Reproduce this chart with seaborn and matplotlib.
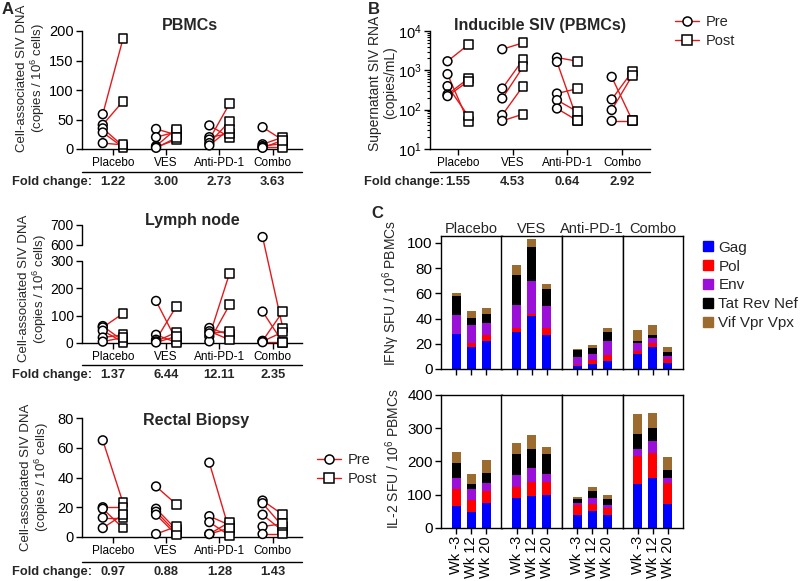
import numpy as np
import pandas as pd
import matplotlib
matplotlib.use("Agg")
import matplotlib.pyplot as plt
from matplotlib.lines import Line2D
from matplotlib.ticker import LogLocator, NullFormatter
import seaborn as sns

# ---- dados ----
groups = ["Placebo", "VES", "Anti-PD-1", "Combo"]

pbmc_pre = [[59, 41, 35, 28, 10], [34, 20, 5, 3, 2], [40, 20, 16, 10, 6], [37, 8, 5, 3, 2]]
pbmc_post = [[187, 81, 5, 3, 7], [24, 29, 34, 16, 19], [20, 26, 77, 47, 34], [15, 20, 9, 3, 15]]
pbmc_fold = ["1.22", "3.00", "2.73", "3.63"]

ln_pre = [[62, 57, 45, 20, 5], [154, 30, 12, 6, 2], [55, 43, 24, 6, 35], [640, 115, 8, 6, 3]]
ln_post = [[8, 108, 3, 30, 20], [10, 2, 134, 39, 24], [30, 12, 255, 140, 43], [55, 2, 115, 40, 3]]
ln_fold = ["1.37", "6.44", "12.11", "2.35"]

rb_pre = [[65, 20, 19, 13, 6], [34, 19, 17, 15, 2], [50, 14, 10, 2, 2], [24.5, 22.7, 15, 7, 2]]
rb_post = [[23, 20, 6, 13, 15], [22, 5, 3, 1.5, 7], [4, 8, 1, 10, 6], [15, 7, 4, 9, 2]]
rb_fold = ["0.97", "0.88", "1.28", "1.43"]

ind_pre = [[1700, 800, 397, 243, 221], [3440, 345, 193, 73, 52], [2110, 1640, 257, 175, 107], [683, 182, 98, 52]]
ind_post = [[4500, 49, 69, 620, 530], [5000, 1870, 1230, 397, 77], [1700, 52, 345, 88, 52], [52, 955, 753, 52]]
ind_fold = ["1.55", "4.53", "0.64", "2.92"]

weeks = ["Wk -3", "Wk 12", "Wk 20"]
antigens = ["Gag", "Pol", "Env", "Tat Rev Nef", "Vif Vpr Vpx"]
cores = ["#0000ff", "#ff0000", "#9b10d8", "#000000", "#9c6b30"]

# valores por grupo (Placebo, VES, Anti-PD-1, Combo) x semana (Wk -3, 12, 20)
ifn_gag = [27.5, 17.5, 22, 29.4, 42, 26.7, 2.4, 4.2, 6.3, 11.6, 17.2, 4.5]
ifn_pol = [0.5, 3.4, 5.2, 3.1, 1.4, 5.8, 1.0, 2.7, 4.5, 2.7, 3.7, 3.2]
ifn_env = [14.6, 13.7, 9.6, 18, 26.4, 17.5, 6.1, 5.3, 11.4, 6.1, 3.4, 2.9]
ifn_tat = [15, 5.8, 7.2, 23.8, 27, 13.8, 5.8, 4.5, 7.2, 1.6, 2.7, 3.2]
ifn_vif = [2.6, 5.3, 4.4, 8, 6.1, 3.9, 0.8, 2.1, 3.4, 9, 7.7, 3.9]

il2_gag = [65, 47, 73, 91, 97, 100, 38, 49, 37, 131, 150, 70]
il2_pol = [52, 36, 38, 31, 42, 39, 30, 23, 21, 84, 75, 65]
il2_env = [34, 33, 25, 37, 42, 23, 7, 18, 10, 23, 35, 15]
il2_tat = [45, 16, 28, 64, 57, 61, 13, 22, 19, 44, 40, 25]
il2_vif = [32, 31, 39, 32, 41, 19, 6, 11, 11, 61, 45, 38]

# ---- estilo ----
sns.set_theme(style="ticks")
plt.rcParams["font.family"] = ["Liberation Sans", "DejaVu Sans"]
plt.rcParams["mathtext.default"] = "regular"
plt.rcParams["axes.linewidth"] = 1.0
plt.rcParams["axes.edgecolor"] = "black"
plt.rcParams["xtick.color"] = "black"
plt.rcParams["ytick.color"] = "black"
VERMELHO = "#e31a1c"
FOLD_FS = 9.3

fig = plt.figure(figsize=(8, 5.81), dpi=100)


def px_axes(x0, y0, x1, y1):
    return fig.add_axes([x0 / 800, 1 - y1 / 581, (x1 - x0) / 800, (y1 - y0) / 581])


def paired_frame(pre, post):
    rows = []
    for g, (a, b) in enumerate(zip(pre, post)):
        for i, (v0, v1) in enumerate(zip(a, b)):
            rows.append((g, f"{g}-{i}", "Pre", v0))
            rows.append((g, f"{g}-{i}", "Post", v1))
    df = pd.DataFrame(rows, columns=["grp", "animal", "time", "value"])
    df["x"] = df["grp"] + df["time"].map({"Pre": -0.19, "Post": 0.19})
    return df


def paired(ax, pre, post):
    df = paired_frame(pre, post)
    sns.lineplot(data=df, x="x", y="value", units="animal", estimator=None,
                 color=VERMELHO, lw=1, ax=ax, legend=False, zorder=2)
    sns.scatterplot(data=df, x="x", y="value", style="time",
                    markers={"Pre": "o", "Post": "s"}, color="white",
                    edgecolor="black", linewidth=1.1, s=40, ax=ax,
                    legend=False, zorder=3, clip_on=False)
    ax.set_xlabel("")
    ax.set_ylabel("")


def eixo_pareado(ax, fold, line_y, fold_y, fold_px, xlim=(-0.58, 3.55)):
    ax.set_xlim(*xlim)
    ax.set_xticks(range(4))
    ax.set_xticklabels(groups, fontsize=8.5)
    ax.spines[["top", "right"]].set_visible(False)
    ax.tick_params(axis="both", direction="out", length=4, width=1, pad=2)
    ax.tick_params(axis="y", labelsize=10.5)
    ax.plot([0, 1], [line_y, line_y], transform=ax.transAxes, color="black",
            lw=1, clip_on=False)
    y_fig = ax.transAxes.transform((0, fold_y))[1] / fig.bbox.height
    fig.text(fold_px / 800, y_fig, "Fold change:", ha="left", va="center",
             fontsize=FOLD_FS, fontweight="bold")
    tr = ax.get_xaxis_transform()
    for i, f in enumerate(fold):
        ax.text(i, fold_y, f, transform=tr, ha="center", va="center",
                fontsize=FOLD_FS, fontweight="bold")


YLAB_A = "Cell-associated SIV DNA\n(copies / 10$^6$ cells)"

# ---- A: PBMCs ----
ax = px_axes(82, 31, 302, 149)
paired(ax, pbmc_pre, pbmc_post)
ax.set_ylim(0, 200)
ax.set_yticks([0, 50, 100, 150, 200])
eixo_pareado(ax, pbmc_fold, -0.195, -0.28, 12)
ax.text(0.49, 1.05, "PBMCs", transform=ax.transAxes, ha="center", va="center",
        fontsize=11.5, fontweight="bold")
ax.set_ylabel(YLAB_A, fontsize=9.5, linespacing=1.05)
ax.yaxis.set_label_coords(-0.16, 0.6)

# ---- A: Lymph node (eixo quebrado) ----
def fwd(y):
    y = np.asarray(y, float)
    return np.where(y < 300, y * 82 / 300,
                    np.where(y < 600, 82 + (y - 300) * 16 / 300, 98 + (y - 600) * 20 / 100))


def inv(v):
    v = np.asarray(v, float)
    return np.where(v < 82, v * 300 / 82,
                    np.where(v < 98, 300 + (v - 82) * 300 / 16, 600 + (v - 98) * 100 / 20))


ax = px_axes(82, 225, 302, 343)
paired(ax, ln_pre, ln_post)
ax.set_yscale("function", functions=(fwd, inv))
ax.set_ylim(0, 700)
ax.set_yticks([0, 100, 200, 300, 600, 700])
ax.set_yticklabels(["0", "100", "200", "300", "600", "700"])
eixo_pareado(ax, ln_fold, -0.186, -0.27, 12)
ax.tick_params(axis="y", labelsize=10)
ax.spines["left"].set_visible(False)
for lo, hi in [(0, 300), (600, 700)]:
    ax.plot([0, 0], [lo, hi], transform=ax.get_yaxis_transform(), color="black",
            lw=1, clip_on=False)
ax.text(0.5, 1.04, "Lymph node", transform=ax.transAxes, ha="center",
        va="center", fontsize=11.5, fontweight="bold")
ax.set_ylabel(YLAB_A, fontsize=9.5, linespacing=1.05)
ax.yaxis.set_label_coords(-0.15, 0.46)

# ---- A: Rectal Biopsy ----
ax = px_axes(82, 418, 302, 537)
paired(ax, rb_pre, rb_post)
ax.set_ylim(0, 80)
ax.set_yticks([0, 20, 40, 60, 80])
eixo_pareado(ax, rb_fold, -0.21, -0.294, 12)
ax.text(0.52, 0.975, "Rectal Biopsy", transform=ax.transAxes, ha="center",
        va="center", fontsize=11.5, fontweight="bold")
ax.set_ylabel(YLAB_A, fontsize=9.5, linespacing=1.05)
ax.yaxis.set_label_coords(-0.14, 0.5)

pp_handles = [
    Line2D([], [], color=VERMELHO, lw=1, marker="o", ms=6.5, mfc="white", mec="black", mew=1.1),
    Line2D([], [], color=VERMELHO, lw=1, marker="s", ms=6.5, mfc="white", mec="black", mew=1.1),
]
fig.legend(pp_handles, ["Pre", "Post"], loc="upper left",
           bbox_to_anchor=(310 / 800, 1 - 446 / 581), frameon=False,
           fontsize=10.5, handlelength=1.6, handletextpad=0.5, labelspacing=0.3,
           borderpad=0)

# ---- B: Inducible SIV ----
ax = px_axes(430, 31, 650, 149)
ax.set_yscale("log")
paired(ax, ind_pre, ind_post)
ax.set_ylim(10, 1e4)
ax.set_yticks([10, 100, 1000, 10000])
ax.yaxis.set_minor_locator(LogLocator(base=10, subs=np.arange(2, 10), numticks=20))
ax.yaxis.set_minor_formatter(NullFormatter())
eixo_pareado(ax, ind_fold, -0.195, -0.28, 364, xlim=(-0.51, 3.51))
ax.tick_params(axis="y", which="minor", length=2, width=0.8, left=True)
ax.text(0.5, 1.05, "Inducible SIV (PBMCs)", transform=ax.transAxes,
        ha="center", va="center", fontsize=11.5, fontweight="bold")
ax.set_ylabel("Supernatant SIV RNA\n(copies/mL)", fontsize=10, linespacing=1.05)
ax.yaxis.set_label_coords(-0.15, 0.56)
fig.legend(pp_handles, ["Pre", "Post"], loc="upper left",
           bbox_to_anchor=(668 / 800, 1 - 8 / 581), frameon=False,
           fontsize=10.5, handlelength=1.6, handletextpad=0.5, labelspacing=0.3,
           borderpad=0)

# ---- C: barras empilhadas ----
def stacked_frame(layers):
    rows = []
    for ant, vals in zip(antigens, layers):
        for k, v in enumerate(vals):
            rows.append((groups[k // 3], weeks[k % 3], ant, v))
    df = pd.DataFrame(rows, columns=["group", "week", "antigen", "value"])
    df["antigen"] = pd.Categorical(df["antigen"], antigens, ordered=True)
    df = df.sort_values(["group", "week", "antigen"])
    df["cum"] = df.groupby(["group", "week"], observed=True)["value"].cumsum()
    return df


ifn_df = stacked_frame([ifn_gag, ifn_pol, ifn_env, ifn_tat, ifn_vif])
il2_df = stacked_frame([il2_gag, il2_pol, il2_env, il2_tat, il2_vif])

linhas = [
    (ifn_df, 236, 369, 105.5, [0, 20, 40, 60, 80, 100], "IFNγ SFU / 10$^6$ PBMCs", 0.57),
    (il2_df, 395, 527.7, 400, [0, 100, 200, 300, 400], "IL-2 SFU / 10$^6$ PBMCs", 0.52),
]
largura = (683 - 441) / 4
for r, (df, y0, y1, ytop, yticks, ylab, ylab_y) in enumerate(linhas):
    for g, grp in enumerate(groups):
        ax = px_axes(441 + g * largura, y0, 441 + (g + 1) * largura, y1)
        sub = df[df["group"] == grp]
        for ant, cor in reversed(list(zip(antigens, cores))):
            sns.barplot(data=sub[sub["antigen"] == ant], x="week", y="cum",
                        order=weeks, color=cor, saturation=1, width=0.6,
                        errorbar=None, edgecolor="none", linewidth=0, ax=ax)
        ax.set_xlim(-1, 3)
        ax.set_ylim(0, ytop)
        ax.set_xlabel("")
        ax.set_ylabel("")
        ax.set_yticks(yticks)
        ax.tick_params(axis="x", direction="out", length=4, width=1, pad=2)
        for s in ax.spines.values():
            s.set_visible(True)
            s.set_linewidth(1)
        if r == 0:
            ax.set_xticklabels([])
            ax.set_title(grp, fontsize=10.5, pad=2)
        else:
            ax.set_xticklabels(weeks, rotation=90, fontsize=10.5)
        if g == 0:
            ax.tick_params(axis="y", direction="out", length=4, width=1,
                           labelsize=11, pad=2)
            ax.set_ylabel(ylab, fontsize=10)
            ax.yaxis.set_label_coords(-0.64, ylab_y)
        else:
            ax.tick_params(axis="y", left=False, labelleft=False)

cor_handles = [Line2D([], [], lw=0, marker="s", ms=7, mfc=c, mec=c) for c in cores]
fig.legend(cor_handles, antigens, loc="upper left",
           bbox_to_anchor=(694 / 800, 1 - 233 / 581), frameon=False,
           fontsize=11, handlelength=0.8, handletextpad=0.3, labelspacing=0.32,
           borderpad=0)

# ---- letras dos painéis ----
fig.text(2 / 800, 1 - 9 / 581, "A", fontsize=12, fontweight="bold", va="center")
fig.text(368 / 800, 1 - 9 / 581, "B", fontsize=12, fontweight="bold", va="center")
fig.text(371 / 800, 1 - 213 / 581, "C", fontsize=12, fontweight="bold", va="center")

fig.savefig("out.png", dpi=100)
